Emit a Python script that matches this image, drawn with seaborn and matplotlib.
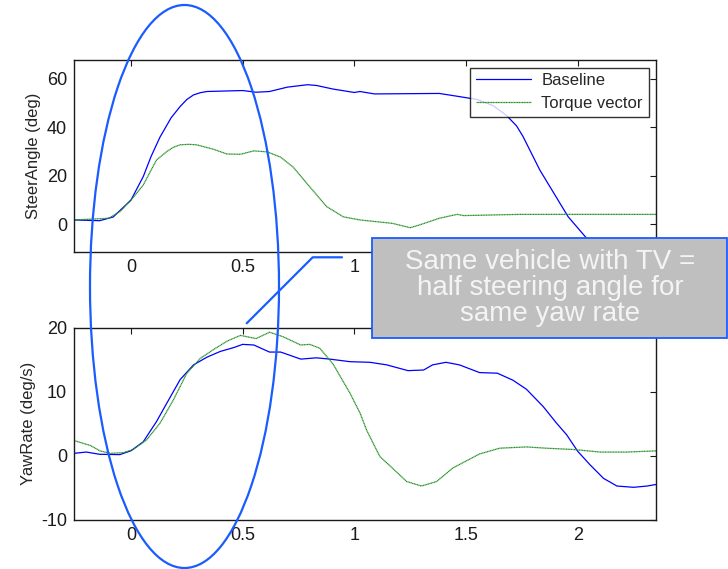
import matplotlib
matplotlib.use("Agg")
import matplotlib.pyplot as plt
from matplotlib.patches import Ellipse, Rectangle
from matplotlib.lines import Line2D
import numpy as np
import pandas as pd
import seaborn as sns

# steer angle (deg) vs time (s)
t_steer_base = [-0.255, -0.14, -0.08, 0.0, 0.055, 0.09, 0.13, 0.18, 0.22, 0.25, 0.28, 0.31,
                0.34, 0.5, 0.56, 0.62, 0.70, 0.79, 0.83, 0.905, 1.0, 1.025, 1.09, 1.38,
                1.47, 1.55, 1.62, 1.68, 1.726, 1.755, 1.83, 1.92, 1.957, 2.04, 2.12, 2.36]
steer_base = [1.8, 1.5, 3.0, 10.0, 19.7, 28.0, 36.0, 44.0, 48.6, 51.5, 53.4, 54.3,
              54.8, 55.2, 54.5, 54.8, 56.6, 57.6, 57.3, 55.8, 54.4, 54.8, 53.8, 54.0,
              52.7, 51.5, 49.0, 45.0, 40.6, 36.2, 22.4, 8.7, 3.1, -5.8, -14.0, -16.0]

t_steer_tv = [-0.255, -0.1, -0.05, 0.0, 0.055, 0.085, 0.115, 0.16, 0.19, 0.22, 0.26, 0.294,
              0.368, 0.43, 0.49, 0.55, 0.61, 0.67, 0.726, 0.8, 0.876, 0.95, 1.025, 1.17,
              1.25, 1.29, 1.38, 1.46, 1.49, 1.74, 2.36]
steer_tv = [1.8, 2.5, 5.2, 10.0, 16.2, 21.5, 26.6, 30.0, 31.8, 32.8, 33.0, 32.8,
            31.0, 29.0, 28.9, 30.3, 29.9, 27.7, 23.6, 15.5, 7.3, 3.1, 1.8, 0.4,
            -1.4, -0.3, 2.5, 4.1, 3.6, 4.1, 4.1]

# yaw rate (deg/s) vs time (s)
t_yaw_base = [-0.255, -0.2, -0.14, -0.05, 0.0, 0.055, 0.115, 0.16, 0.22, 0.28, 0.34, 0.40,
              0.46, 0.50, 0.55, 0.62, 0.67, 0.76, 0.83, 0.89, 0.98, 1.07, 1.145, 1.24,
              1.31, 1.35, 1.41, 1.47, 1.56, 1.64, 1.71, 1.77, 1.845, 1.905, 1.95, 2.0,
              2.055, 2.115, 2.175, 2.25, 2.31, 2.36]
yaw_base = [0.4, 0.6, 0.25, 0.2, 0.8, 2.2, 5.4, 8.2, 11.9, 14.2, 15.4, 16.3,
            16.9, 17.4, 17.3, 16.2, 16.2, 15.1, 15.3, 15.1, 14.7, 14.6, 14.2, 13.3,
            13.4, 14.2, 14.6, 14.2, 13.0, 12.9, 11.8, 10.4, 7.7, 5.1, 3.3, 0.7,
            -1.4, -3.5, -4.7, -4.9, -4.7, -4.4]

t_yaw_tv = [-0.255, -0.18, -0.14, -0.094, -0.035, 0.01, 0.07, 0.13, 0.19, 0.25, 0.31, 0.37,
            0.43, 0.49, 0.56, 0.62, 0.68, 0.76, 0.80, 0.845, 0.905, 0.98, 1.025, 1.055,
            1.114, 1.17, 1.234, 1.30, 1.368, 1.44, 1.50, 1.56, 1.65, 1.77, 1.86, 1.98,
            2.10, 2.22, 2.36]
yaw_tv = [2.4, 1.6, 0.8, 0.4, 0.5, 1.0, 2.5, 5.1, 8.75, 12.9, 15.2, 16.6,
          17.9, 18.8, 18.3, 19.3, 18.6, 17.3, 17.4, 16.8, 14.3, 9.8, 6.7, 4.0,
          -0.1, -1.9, -4.0, -4.7, -4.0, -1.9, -0.8, 0.3, 1.2, 1.4, 1.2, 1.0,
          0.6, 0.6, 0.8]

xticks = [0, 0.5, 1, 1.5, 2]
xtick_labels = ["0", "0.5", "1", "1.5", "2"]
steer_yticks = [0, 20, 40, 60]
yaw_yticks = [-10, 0, 10, 20]
note = "Same vehicle with TV =\nhalf steering angle for\nsame yaw rate"

sns.set_style("white")
plt.rcParams['font.family'] = ['Liberation Sans', 'DejaVu Sans']
plt.rcParams['axes.unicode_minus'] = False

W, H = 728, 569
fig = plt.figure(figsize=(W / 100, H / 100), dpi=100)
ax1 = fig.add_axes([74 / W, 1 - 251.7 / H, (656 - 74) / W, (251.7 - 60) / H])
ax2 = fig.add_axes([74 / W, 1 - 520 / H, (656 - 74) / W, (520 - 327.7) / H])

blue = "#0000ff"
green = "#229022"

sns.lineplot(x=t_steer_base, y=steer_base, ax=ax1, color=blue, lw=0.9, label="Baseline")
sns.lineplot(x=t_steer_tv, y=steer_tv, ax=ax1, color=green, lw=0.9, ls=(0, (1, 0.3)),
             label="Torque vector")
sns.lineplot(x=t_yaw_base, y=yaw_base, ax=ax2, color=blue, lw=0.9)
sns.lineplot(x=t_yaw_tv, y=yaw_tv, ax=ax2, color=green, lw=0.9, ls=(0, (1, 0.3)))

for ax, yt, yl, lab in [(ax1, steer_yticks, (-11.3, 67.8), "SteerAngle (deg)"),
                        (ax2, yaw_yticks, (-10, 20), "YawRate (deg/s)")]:
    ax.set_xlim(-0.255, 2.35)
    ax.set_ylim(*yl)
    ax.set_xticks(xticks)
    ax.set_xticklabels(xtick_labels)
    ax.set_yticks(yt)
    ax.set_ylabel(lab, fontsize=12)
    ax.tick_params(direction="in", top=True, right=True, length=4, width=0.8,
                   labelsize=13, colors="#1a1a1a", pad=5)
    for s in ax.spines.values():
        s.set_color("#1a1a1a")
        s.set_linewidth(1.0)

leg = ax1.legend(loc="upper right", fontsize=12, handlelength=3.3, frameon=True,
                 fancybox=False, borderaxespad=0.45, borderpad=0.35, labelspacing=0.45,
                 handletextpad=0.6)
leg.get_frame().set_edgecolor("black")
leg.get_frame().set_linewidth(1.0)

# annotation overlays in pixel space
edge = "#1a5cff"
to_fig = lambda x, y: (x / W, 1 - y / H)
fig.add_artist(Ellipse(to_fig(184.5, 286.5), 189 / W, 563 / H, transform=fig.transFigure,
                       fill=False, edgecolor=edge, lw=1.6, zorder=5))
xs, ys = zip(*[to_fig(246.7, 323.3), to_fig(312.7, 257.3), to_fig(342, 257.3)])
fig.add_artist(Line2D(xs, ys, transform=fig.transFigure, color=edge, lw=1.6, zorder=5))
x0, y0 = to_fig(372, 338)
fig.add_artist(Rectangle((x0, y0), (727 - 372) / W, (338 - 238) / H, transform=fig.transFigure,
                         facecolor="#bfbfbf", edgecolor=edge, lw=1.3, zorder=6))
tx, ty = to_fig(550, 288)
fig.text(tx, ty, note, ha="center", va="center", fontsize=20, color="#f4f4f4",
         linespacing=1.0, zorder=7)

fig.savefig("out.png", dpi=100)
